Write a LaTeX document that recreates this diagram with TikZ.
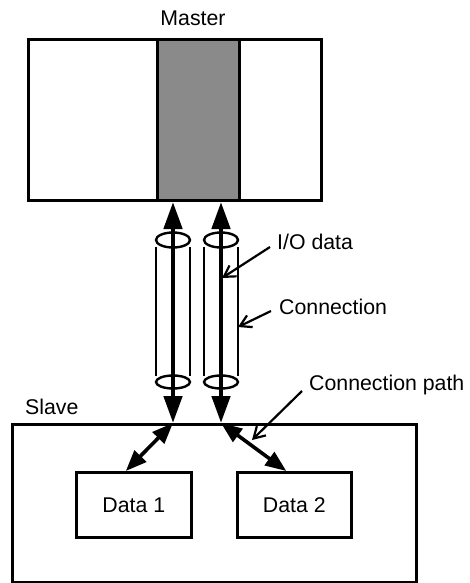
\documentclass[tikz,border=0pt]{standalone}
\usepackage{fontspec}
\setmainfont{Liberation Sans}
\usepackage{xcolor}
\usetikzlibrary{arrows.meta, positioning, calc}
\definecolor{stripgray}{RGB}{138, 138, 138}
\tikzset{
    unitbox/.style={
        rectangle,
        draw=black,
        line width=3pt,
        inner sep=0pt,
        anchor=north west
    },
    databox/.style={
        unitbox,
        line width=2.6pt
    },
    buffer/.style={
        unitbox,
        fill=stripgray
    },
    caption/.style={
        inner sep=0pt,
        font=\fontsize{21.3}{25}\selectfont
    },
    tube/.style={
        line width=1.8pt
    },
    ring/.style={
        line width=2.4pt
    },
    channel/.style={
        {Triangle[length=27pt, width=18pt]}-{Triangle[length=27pt, width=18pt]},
        line width=4.6pt
    },
    branch/.style={
        {Triangle[length=21pt, width=16pt]}-{Triangle[length=21pt, width=16pt]},
        line width=3.6pt
    },
    pointer/.style={
        -{Straight Barb[length=11pt, width=13pt]},
        line width=2.2pt
    }
}
\begin{document}
\begin{tikzpicture}[x=1pt, y=-1pt]
    \useasboundingbox (0,0) rectangle (469,583);
    \node[unitbox, minimum width=293pt, minimum height=161pt] (master) at (27,38) {};
    \node[buffer, minimum width=82pt, minimum height=161pt] (strip) at (156,38) {};
    \node[caption] (mastertitle) at (193,18) {Master};
    \node[unitbox, minimum width=404pt, minimum height=158pt] (slave) at (11,423) {};
    \node[caption, anchor=west] (slavetitle) at (25,407) {Slave};
    \node[databox, minimum width=115pt, minimum height=65pt] (data1) at (75,471) {};
    \node[databox, minimum width=114pt, minimum height=65pt] (data2) at (236,471) {};
    \node[caption] at (data1.center) {Data 1};
    \node[caption] at (data2.center) {Data 2};
    \foreach \cx/\ch in {173/a, 221/b} {
        \coordinate (col\ch) at (\cx,0);
        \draw[tube] (\cx-17,247) -- (\cx-17,376) (\cx+17,247) -- (\cx+17,376);
        \draw[ring] (\cx,240) ellipse [x radius=17, y radius=7.5];
        \draw[ring] (\cx,382) ellipse [x radius=17, y radius=6.5];
        \draw[channel] (master.south -| col\ch) -- (slave.north -| col\ch);
    }
    \draw[branch] (slave.north -| cola) -- ([xshift=-8pt]data1.north);
    \draw[branch] (slave.north -| colb) -- ([xshift=-8pt]data2.north);
    \node[caption, anchor=west] (iolabel) at (277,242) {I/O data};
    \node[caption, anchor=west] (connlabel) at (279,307) {Connection};
    \node[caption, anchor=west] (pathlabel) at (309,385) {Connection path};
    \coordinate (iotip) at (222,278);
    \coordinate (conntip) at (238,327);
    \coordinate (pathtip) at (252,440);
    \draw[pointer] ([xshift=-7pt, yshift=-5pt]iolabel.west) -- (iotip);
    \draw[pointer] ([xshift=-8pt, yshift=-4pt]connlabel.west) -- (conntip);
    \draw[pointer] ([xshift=-7pt, yshift=-6pt]pathlabel.west) -- (pathtip);
\end{tikzpicture}
\end{document}
